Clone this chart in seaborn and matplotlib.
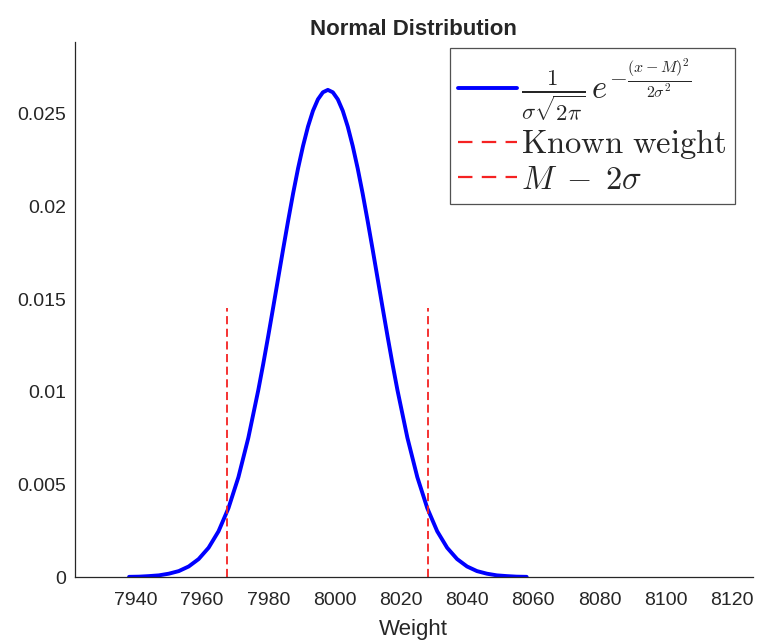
import matplotlib
matplotlib.use('Agg')
import matplotlib.pyplot as plt
import pandas as pd
import seaborn as sns

# Curve values (weight vs density)
weights = [7938, 7941, 7944, 7947, 7950, 7953, 7956, 7959, 7962, 7965,
           7968, 7971, 7974, 7977, 7978.5, 7980, 7981.5, 7983, 7984.5, 7986, 7987.5,
           7989, 7990.5, 7992, 7993.5, 7995, 7996.5,
           7998, 7999.5, 8001, 8002.5, 8004, 8005.5, 8007, 8008.5, 8010, 8011.5,
           8013, 8014.5, 8016, 8017.5, 8019, 8022, 8025,
           8028, 8031, 8034, 8037, 8040, 8043, 8046, 8049, 8052, 8055, 8058]
density = [0.00001, 0.00002, 0.00005, 0.00009, 0.00018, 0.00032, 0.00057, 0.00097, 0.00158, 0.00247,
           0.00372, 0.00539, 0.00752, 0.01009, 0.01151, 0.01301, 0.01456, 0.01613, 0.01770, 0.01923, 0.02070,
           0.02206, 0.02327, 0.02432, 0.02517, 0.02579, 0.02617,
           0.02630, 0.02617, 0.02579, 0.02517, 0.02432, 0.02327, 0.02206, 0.02070, 0.01923, 0.01770,
           0.01613, 0.01456, 0.01301, 0.01151, 0.01009, 0.00752, 0.00539,
           0.00372, 0.00247, 0.00158, 0.00097, 0.00057, 0.00032, 0.00018, 0.00009, 0.00005, 0.00002, 0.00001]

# Vertical marker lines
known_weight_x = [8028.3, 8028.3]
known_weight_y = [0, 0.0145]
m2s_x = [7967.7, 7967.7]
m2s_y = [0, 0.0145]

xticks = [7940, 7960, 7980, 8000, 8020, 8040, 8060, 8080, 8100, 8120]
yticks = [0, 0.005, 0.01, 0.015, 0.02, 0.025]
ytick_labels = ['0', '0.005', '0.01', '0.015', '0.02', '0.025']

df = pd.DataFrame({'weight': weights, 'density': density})

sns.set_style('white')
plt.rcParams['font.family'] = ['Liberation Sans', 'DejaVu Sans']
plt.rcParams['mathtext.fontset'] = 'cm'

fig = plt.figure(figsize=(7.57, 6.43), dpi=100)
ax = fig.add_axes([0.0987, 0.1026, 0.896, 0.8325])

red = '#f52222'
sns.lineplot(data=df, x='weight', y='density', ax=ax, color='#0000ff', linewidth=2.8,
             sort=False, estimator=None,
             label=r'$\frac{1}{\sigma\sqrt{2\pi}}\,e^{-\frac{(x-M)^2}{2\sigma^2}}$')
sns.lineplot(x=known_weight_x, y=known_weight_y, ax=ax, color=red, linewidth=1.3,
             sort=False, estimator=None,
             linestyle=(0, (4.5, 2.5)), label=r'$\mathrm{Known\ weight}$')
sns.lineplot(x=m2s_x, y=m2s_y, ax=ax, color=red, linewidth=1.3,
             sort=False, estimator=None,
             linestyle=(0, (4.5, 2.5)), label=r'$M\;-\;2\sigma$')

ax.set_xlim(7921.6, 8126.3)
ax.set_ylim(0, 0.0289)
ax.set_xticks(xticks)
ax.set_yticks(yticks)
ax.set_yticklabels(ytick_labels)

for side in ['top', 'right']:
    ax.spines[side].set_visible(False)
for side in ['left', 'bottom']:
    ax.spines[side].set_color('#262626')
    ax.spines[side].set_linewidth(0.9)
ax.tick_params(direction='in', length=5, width=0.9, color='#262626',
               labelcolor='#262626', labelsize=14)
ax.tick_params(axis='x', pad=11)
ax.tick_params(axis='y', pad=6)

ax.set_title('Normal Distribution', fontsize=16, fontweight='bold', pad=5)
ax.set_xlabel('Weight', fontsize=16, color='#262626', labelpad=7)
ax.set_ylabel('')

leg = ax.legend(loc='upper right', bbox_to_anchor=(0.9735, 0.988), borderaxespad=0,
                fontsize=23.5, frameon=True, fancybox=False, handlelength=1.8,
                handletextpad=0.15, labelspacing=0.1, borderpad=0.25)
leg.get_frame().set_edgecolor('#262626')
leg.get_frame().set_linewidth(0.9)
# longer dashes in the legend keys, like the reference
for line in leg.get_lines()[1:]:
    line.set_linewidth(1.6)
    line.set_linestyle((0, (6.5, 4.2)))

fig.savefig('out.png', dpi=100)
